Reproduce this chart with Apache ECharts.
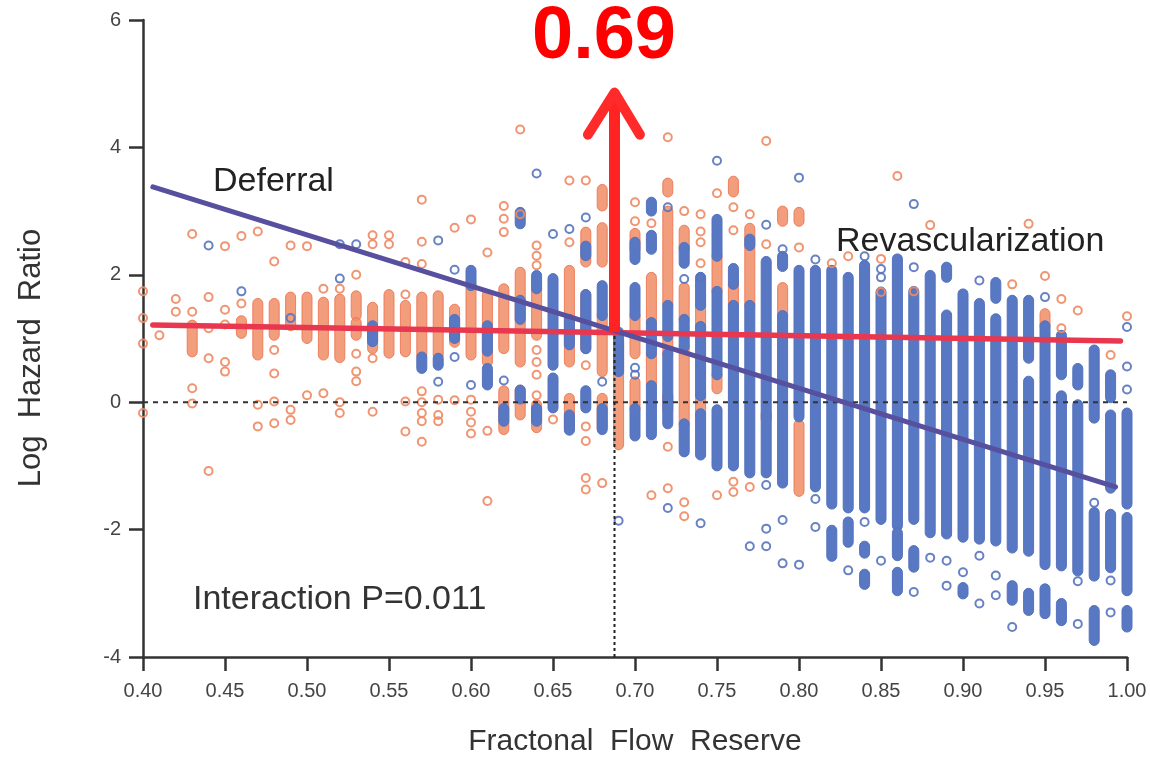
<!DOCTYPE html>
<html><head><meta charset="utf-8">
<script src="https://cdn.jsdelivr.net/npm/echarts@6/dist/echarts.min.js"></script>
<style>html,body{margin:0;padding:0;background:#fff}#c{width:1150px;height:762px}</style>
</head><body><div id="c"></div>
<script>
// ---- axis ticks ----
const xTicks = [0.40,0.45,0.50,0.55,0.60,0.65,0.70,0.75,0.80,0.85,0.90,0.95,1.00];
const yTicks = [-4,-2,0,2,4,6];

// ---- Deferral (orange) single patients [FFR, logHR] ----
const deferralPoints = [
[0.40,1.74],[0.40,1.32],[0.40,0.92],[0.40,-0.17],
[0.41,1.05],
[0.42,1.62],[0.42,1.42],
[0.43,2.64],[0.43,1.42],[0.43,0.22],[0.43,-0.02],
[0.44,1.65],[0.44,1.16],[0.44,0.69],[0.44,-1.08],
[0.45,2.45],[0.45,1.45],[0.45,1.22],[0.45,0.63],[0.45,0.48],
[0.46,2.61],[0.46,1.55],
[0.47,2.68],[0.47,-0.04],[0.47,-0.38],
[0.48,2.21],[0.48,0.82],[0.48,0.45],[0.48,0.01],[0.48,-0.33],
[0.49,2.46],[0.49,-0.12],[0.49,-0.28],
[0.50,2.45],[0.50,0.11],
[0.51,1.78],[0.51,0.14],
[0.52,1.78],[0.52,0.0],[0.52,-0.17],
[0.53,2.0],[0.53,0.76],[0.53,0.48],[0.53,0.33],
[0.54,2.62],[0.54,2.48],[0.54,0.69],[0.54,-0.15],
[0.55,2.62],[0.55,2.48],
[0.56,2.2],[0.56,1.69],[0.56,0.01],[0.56,-0.46],
[0.57,3.18],[0.57,2.52],[0.57,2.17],[0.57,0.17],[0.57,0.0],[0.57,-0.17],[0.57,-0.3],[0.57,-0.62],
[0.58,0.04],[0.58,-0.2],[0.58,-0.3],
[0.59,2.74],[0.59,0.03],
[0.60,2.87],[0.60,0.04],[0.60,-0.15],[0.60,-0.32],[0.60,-0.49],
[0.61,2.35],[0.61,-0.45],[0.61,-1.55],
[0.62,3.08],[0.62,2.88],[0.62,2.67],
[0.63,4.28],[0.63,2.95],
[0.64,2.46],[0.64,2.3],[0.64,2.15],[0.64,0.82],[0.64,0.63],[0.64,0.43],[0.64,0.11],
[0.65,-0.27],
[0.66,3.48],[0.66,2.51],
[0.67,3.48],[0.67,0.58],[0.67,-0.38],[0.67,-0.61],[0.67,-1.19],[0.67,-1.37],
[0.68,-1.27],
[0.70,3.14],[0.70,2.84],
[0.71,2.81],[0.71,-1.46],
[0.72,4.16],[0.72,-0.70],[0.72,-1.35],
[0.73,3.0],[0.73,-1.57],[0.73,-1.79],
[0.74,2.95],[0.74,2.68],[0.74,2.51],[0.74,2.18],
[0.75,3.28],[0.75,-1.46],
[0.76,3.06],[0.76,2.70],[0.76,-1.25],[0.76,-1.41],
[0.77,2.95],[0.77,-1.33],
[0.78,4.1],[0.78,2.48],
[0.80,2.43],
[0.82,2.18],
[0.83,2.29],
[0.85,2.25],[0.85,1.73],
[0.86,3.55],
[0.87,1.74],
[0.88,2.78],
[0.93,1.85],
[0.94,2.8],
[0.95,1.98],
[0.96,1.62],[0.96,1.16],
[0.97,1.44],
[0.99,0.74],
[1.00,1.35]
];
// Deferral dense stacks [FFR, low, high]
const deferralBands = [
[0.43,0.79,1.21],[0.46,1.08,1.28],[0.47,0.74,1.55],[0.48,1.05,1.55],[0.49,1.2,1.65],
[0.50,1.0,1.65],[0.51,0.74,1.57],[0.52,0.7,1.62],[0.53,1.36,1.67],[0.53,1.05,1.25],
[0.54,0.84,1.49],[0.55,0.77,1.69],[0.56,0.79,1.52],[0.57,0.74,1.65],[0.58,0.74,1.67],
[0.59,0.94,1.46],[0.60,0.74,1.83],[0.61,0.63,1.69],[0.62,0.84,1.78],[0.62,-0.43,0.18],
[0.63,0.63,2.04],[0.63,-0.2,0.19],[0.64,1.05,1.78],[0.64,-0.4,-0.04],[0.66,0.63,2.07],
[0.66,-0.42,0.06],[0.67,2.2,2.67],[0.67,0.84,1.69],[0.68,3.08,3.34],[0.68,2.2,2.74],
[0.68,0.48,1.36],[0.68,-0.4,0.06],[0.69,-0.67,0.95],[0.70,2.40,2.65],[0.70,0.76,1.36],
[0.70,-0.1,0.32],[0.71,1.25,1.96],[0.71,0.26,0.76],[0.72,3.3,3.44],[0.72,1.52,3.0],
[0.72,0.76,1.03],[0.72,-0.12,0.10],[0.73,2.4,2.7],[0.73,1.30,1.80],[0.73,-0.34,0.87],
[0.74,1.19,1.52],[0.74,-0.18,0.10],[0.75,1.74,2.29],[0.75,0.21,0.43],[0.76,3.3,3.47],
[0.76,1.52,1.85],[0.77,1.52,2.73],[0.78,-0.26,-0.18],[0.79,2.84,3.0],[0.79,1.36,1.80],
[0.80,2.84,2.98],[0.80,-1.4,-0.35],[0.95,1.2,1.39]
];

// ---- Revascularization (blue) single patients ----
const revascPoints = [
[0.44,2.46],[0.46,1.74],[0.49,1.32],[0.52,2.48],[0.52,1.94],[0.53,2.48],[0.58,2.54],[0.58,0.32],
[0.59,2.08],[0.59,0.71],[0.60,0.27],[0.62,0.34],[0.64,3.59],[0.65,2.64],[0.66,2.72],[0.67,2.9],
[0.68,0.32],[0.69,-1.86],[0.70,0.54],[0.70,0.43],[0.72,3.06],[0.72,-1.66],[0.73,1.935],
[0.74,1.96],[0.74,-1.90],[0.75,3.79],[0.77,-2.26],[0.78,2.785],[0.78,-1.30],[0.78,-1.985],
[0.78,-2.26],[0.79,2.40],[0.79,-1.85],[0.79,-2.53],[0.80,3.525],[0.80,-2.55],[0.81,2.24],
[0.81,-1.52],[0.81,-1.96],[0.83,-2.64],[0.84,2.29],[0.84,-1.88],[0.85,2.09],[0.85,1.96],
[0.85,-2.49],[0.87,3.11],[0.87,2.12],[0.87,-2.98],[0.88,-2.44],[0.89,-2.49],[0.89,-2.88],
[0.90,-2.67],[0.91,1.91],[0.91,-2.41],[0.91,-3.16],[0.92,-2.72],[0.92,-3.03],[0.93,-3.53],
[0.95,1.65],[0.97,-2.81],[0.97,-3.48],[0.98,-1.58],[0.99,-2.8],[0.99,-3.3],
[1.00,1.18],[1.00,0.56],[1.00,0.2]
];
// Revascularization dense stacks [FFR, low, high]
const revascBands = [
[0.54,0.95,1.2],[0.57,0.53,0.71],[0.58,0.58,0.69],[0.59,1.0,1.3],[0.60,1.83,2.07],
[0.61,0.8,1.2],[0.61,0.27,0.53],[0.62,-0.3,-0.1],[0.63,2.8,2.98],[0.63,1.3,1.6],
[0.63,0.05,0.19],[0.64,1.78,1.99],[0.64,-0.3,-0.1],[0.65,0.58,1.94],[0.65,-0.09,0.38],
[0.66,0.9,1.3],[0.66,-0.44,-0.2],[0.67,2.3,2.45],[0.67,0.84,1.69],[0.67,-0.09,0.18],
[0.68,1.36,1.83],[0.68,-0.43,-0.1],[0.69,0.48,1.1],
[0.70,2.24,2.51],[0.70,1.36,1.80],[0.70,-0.53,-0.1],
[0.71,3.0,3.14],[0.71,2.40,2.62],[0.71,0.76,1.25],[0.71,-0.51,0.26],
[0.72,1.03,1.52],[0.72,-0.34,0.76],
[0.73,2.18,2.43],[0.73,0.87,1.30],[0.73,-0.78,-0.34],
[0.74,1.52,1.96],[0.74,0.10,1.19],[0.74,-0.83,-0.18],
[0.75,2.29,2.87],[0.75,0.43,1.74],[0.75,-1.0,-0.12],
[0.76,1.85,2.10],[0.76,-1.0,1.52],
[0.77,2.46,2.56],[0.77,-1.11,1.52],
[0.78,-1.11,2.21],
[0.79,2.13,2.29],[0.79,-1.27,1.36],
[0.80,-0.23,2.07],
[0.81,-1.33,2.07],
[0.82,-1.60,2.07],[0.82,-2.42,-2.01],
[0.83,-1.66,1.96],[0.83,-2.20,-1.88],
[0.84,-1.66,2.15],[0.84,-2.37,-2.26],[0.84,-2.86,-2.70],
[0.85,-1.84,1.73],
[0.86,-1.94,2.25],[0.86,-2.41,-2.05],[0.86,-2.96,-2.67],
[0.87,-1.84,1.74],[0.87,-2.59,-2.33],
[0.88,-2.05,1.99],
[0.89,1.96,2.12],[0.89,-2.07,1.37],
[0.90,-2.12,1.70],[0.90,-3.01,-2.91],
[0.91,-2.15,1.55],
[0.92,1.63,1.88],[0.92,-2.18,1.31],
[0.93,-2.29,1.6],[0.93,-3.11,-2.88],
[0.94,0.69,1.6],[0.94,-2.34,0.33],[0.94,-3.27,-3.0],
[0.95,-2.55,1.2],[0.95,-3.32,-2.93],
[0.96,0.43,1.05],[0.96,-2.57,0.1],[0.96,-3.43,-3.16],
[0.97,0.27,0.53],[0.97,-2.65,-0.04],
[0.98,-0.25,0.82],[0.98,-2.73,-1.73],[0.98,-3.74,-3.27],
[0.99,0.07,0.43],[0.99,-1.35,-0.2],[0.99,-2.6,-1.76],
[1.00,-1.6,-0.17],[1.00,-2.96,-1.81],[1.00,-3.53,-3.27]
];

// ---- fitted lines and reference lines ----
const deferralFit = [[0.406,3.38],[0.993,-1.33]];
const revascFit   = [[0.406,1.21],[0.996,0.96]];
const zeroLine    = [[0.40,0],[1.00,0]];
const cutoffLine  = [[0.6875,-4],[0.6875,1.1]];
const arrowShaft  = [[0.6875,1.1],[0.6875,4.78]];
const arrowHead   = [[0.6713,4.2],[0.6875,4.86],[0.7030,4.2]];

const FONT = '"Liberation Sans", Arial, sans-serif';
const BLUE = '#5878c4', ORANGE = 'rgba(240,140,100,0.85)';

function bandRenderer(color, stroke){
  return function(params, api){
    const x = api.value(0), lo = api.value(1), hi = api.value(2);
    const p1 = api.coord([x, hi]), p2 = api.coord([x, lo]);
    const w = 10;
    return {type:'rect', shape:{x:p1[0]-w/2, y:p1[1]-w/2, width:w, height:(p2[1]-p1[1])+w, r:w/2},
            style:{fill:color, stroke:stroke, lineWidth:1}};
  };
}
function lineSeries(data, color, width, type, z, cap){
  return {type:'line', data, showSymbol:false, silent:true, z, animation:false,
          lineStyle:{color, width, type: type||'solid', cap: cap||'butt', join:'round'}};
}

const chart = echarts.init(document.getElementById('c'), null, {renderer:'canvas'});
chart.setOption({
  animation:false,
  backgroundColor:'#fff',
  grid:{left:143, right:23, top:20, bottom:102, containLabel:false},
  xAxis:{type:'value', min:xTicks[0], max:xTicks[xTicks.length-1], interval:0.05,
    name:'Fractonal  Flow  Reserve', nameLocation:'middle', nameGap:70,
    nameTextStyle:{fontSize:30, color:'#333', fontFamily:FONT},
    axisLine:{show:true, onZero:false, lineStyle:{color:'#333', width:2.5}},
    axisTick:{show:true, inside:false, length:14, lineStyle:{color:'#333', width:2.5}},
    axisLabel:{margin:24, fontSize:20, color:'#444', fontFamily:FONT, formatter:v=>v.toFixed(2)},
    splitLine:{show:false}},
  yAxis:{type:'value', min:yTicks[0], max:yTicks[yTicks.length-1], interval:2,
    axisLine:{show:true, onZero:false, lineStyle:{color:'#333', width:2.5}},
    axisTick:{show:true, inside:false, length:14, lineStyle:{color:'#333', width:2.5}},
    axisLabel:{margin:22, fontSize:20, color:'#444', fontFamily:FONT},
    splitLine:{show:false}},
  graphic:[
    {type:'text', x:31, y:358, rotation:Math.PI/2, z:100,
     style:{text:'Log  Hazard  Ratio', fill:'#333', font:'31px '+FONT, align:'center', verticalAlign:'middle', textAlign:'center', textVerticalAlign:'middle'}},
    {type:'text', x:213, y:182, z:100,
     style:{text:'Deferral', fill:'#222', font:'34px '+FONT, align:'left', verticalAlign:'middle', textAlign:'left', textVerticalAlign:'middle'}},
    {type:'text', x:836, y:242, z:100,
     style:{text:'Revascularization', fill:'#222', font:'34px '+FONT, align:'left', verticalAlign:'middle', textAlign:'left', textVerticalAlign:'middle'}},
    {type:'text', x:193, y:600, z:100,
     style:{text:'Interaction P=0.011', fill:'#333', font:'34px '+FONT, align:'left', verticalAlign:'middle', textAlign:'left', textVerticalAlign:'middle'}},
    {type:'text', x:604, y:38, z:100,
     style:{text:'0.69', fill:'#ff0000', font:'bold 74px '+FONT, align:'center', verticalAlign:'middle', textAlign:'center', textVerticalAlign:'middle'}}
  ],
  series:[
    {type:'custom', name:'deferralBands', data:deferralBands, renderItem:bandRenderer(ORANGE, 'rgba(236,120,85,0.9)'),
     encode:{x:0, y:[1,2]}, z:2, silent:true, clip:false},
    {type:'custom', name:'revascBands', data:revascBands, renderItem:bandRenderer(BLUE, '#5472bd'),
     encode:{x:0, y:[1,2]}, z:3, silent:true, clip:false},
    {type:'scatter', name:'deferral', data:deferralPoints, symbol:'circle', symbolSize:8, z:4, silent:true,
     itemStyle:{color:'rgba(255,255,255,0)', borderColor:'#ee8a63', borderWidth:2, opacity:0.9}},
    {type:'scatter', name:'revasc', data:revascPoints, symbol:'circle', symbolSize:8, z:5, silent:true,
     itemStyle:{color:'rgba(255,255,255,0)', borderColor:'#5674bd', borderWidth:2, opacity:0.9}},
    lineSeries(zeroLine, '#333', 2, [5,5], 6),
    lineSeries(cutoffLine, '#222', 2, [3,3], 6),
    lineSeries(revascFit, '#e8374f', 5.5, 'solid', 7, 'round'),
    lineSeries(deferralFit, '#56509f', 5, 'solid', 8, 'round'),
    lineSeries(arrowShaft, '#ff2323', 11, 'solid', 10, 'butt'),
    lineSeries(arrowHead, '#ff2a2a', 10, 'solid', 10, 'round')
  ]
});
</script>
</body></html>
